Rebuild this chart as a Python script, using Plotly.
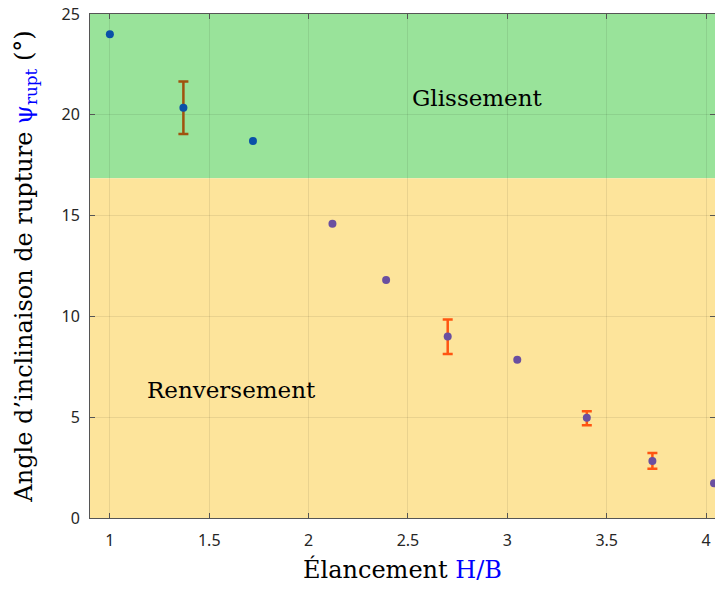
import plotly.graph_objects as go

# Data
elancement = [1.00, 1.37, 1.72, 2.12, 2.39, 2.70, 3.05, 3.40, 3.73, 4.04]
psi_rupt = [24.0, 20.35, 18.7, 14.6, 11.8, 9.0, 7.85, 4.97, 2.83, 1.72]
err_plus = [None, 1.3, None, None, None, 0.85, None, 0.33, 0.4, None]
err_minus = [None, 1.3, None, None, None, 0.87, None, 0.37, 0.39, None]
seuil = 16.85
x_range = [0.9, 4.045]
y_range = [0, 25]

green_bg = "#99E39A"
yellow_bg = "#FDE49B"
pt_green = "#0A50A8"
pt_yellow = "#6A4FA0"
eb_green = "#A0520E"
eb_yellow = "#FF5511"

fig = go.Figure()

for xi, yi, ep, em in zip(elancement, psi_rupt, err_plus, err_minus):
    if ep is None:
        continue
    col = eb_green if yi > seuil else eb_yellow
    fig.add_trace(go.Scatter(
        x=[xi], y=[yi], mode="markers",
        marker=dict(size=1, color="rgba(0,0,0,0)"),
        error_y=dict(type="data", symmetric=False, array=[ep], arrayminus=[em],
                     color=col, thickness=2.5, width=5),
        showlegend=False, hoverinfo="skip"))

fig.add_trace(go.Scatter(
    x=elancement, y=psi_rupt, mode="markers",
    marker=dict(size=8, color=[pt_green if v > seuil else pt_yellow for v in psi_rupt]),
    showlegend=False, cliponaxis=True))

fig.add_shape(type="rect", xref="x", yref="y", x0=x_range[0], x1=x_range[1] + 1,
              y0=seuil, y1=y_range[1], fillcolor=green_bg, line_width=0, layer="below")
fig.add_shape(type="rect", xref="x", yref="y", x0=x_range[0], x1=x_range[1] + 1,
              y0=y_range[0], y1=seuil, fillcolor=yellow_bg, line_width=0, layer="below")

serif = "DejaVu Serif, serif"
fig.add_annotation(x=2.85, y=20.85, text="Glissement", showarrow=False,
                   font=dict(family=serif, size=23, color="black"))
fig.add_annotation(x=1.61, y=6.35, text="Renversement", showarrow=False,
                   font=dict(family=serif, size=23, color="black"))

fig.update_layout(
    width=715, height=590,
    margin=dict(l=90, r=0, t=14, b=72),
    paper_bgcolor="white", plot_bgcolor="white",
    font=dict(family="Noto Sans, DejaVu Sans, sans-serif", size=16, color="#262626"),
)
fig.update_xaxes(
    range=x_range, tickvals=[1, 1.5, 2, 2.5, 3, 3.5, 4],
    ticktext=["1", "1.5", "2", "2.5", "3", "3.5", "4"], automargin=False,
    ticks="inside", ticklen=5, tickcolor="#555555", showline=True, linecolor="#555555",
    linewidth=1, mirror="ticks", showgrid=True, gridcolor="rgba(0,0,0,0.08)", zeroline=False,
    ticklabelstandoff=8,
    title=dict(text="Élancement <span style='color:blue'>H/B</span>",
               font=dict(family=serif, size=24, color="black"), standoff=10),
)
fig.update_yaxes(
    range=y_range, tickvals=[0, 5, 10, 15, 20, 25], automargin=False,
    ticks="inside", ticklen=5, tickcolor="#555555", showline=True, linecolor="#555555",
    linewidth=1, mirror="ticks", showgrid=True, gridcolor="rgba(0,0,0,0.08)", zeroline=False,
    ticklabelstandoff=6,
    title=dict(text="Angle d’inclinaison de rupture <span style='color:blue'>ψ<sub>rupt</sub></span> (°)",
               font=dict(family=serif, size=24, color="black"), standoff=22),
)

fig.write_html("out.html", config={"displayModeBar": False},
               post_script="document.body.style.margin='0';document.body.style.overflow='hidden';")
